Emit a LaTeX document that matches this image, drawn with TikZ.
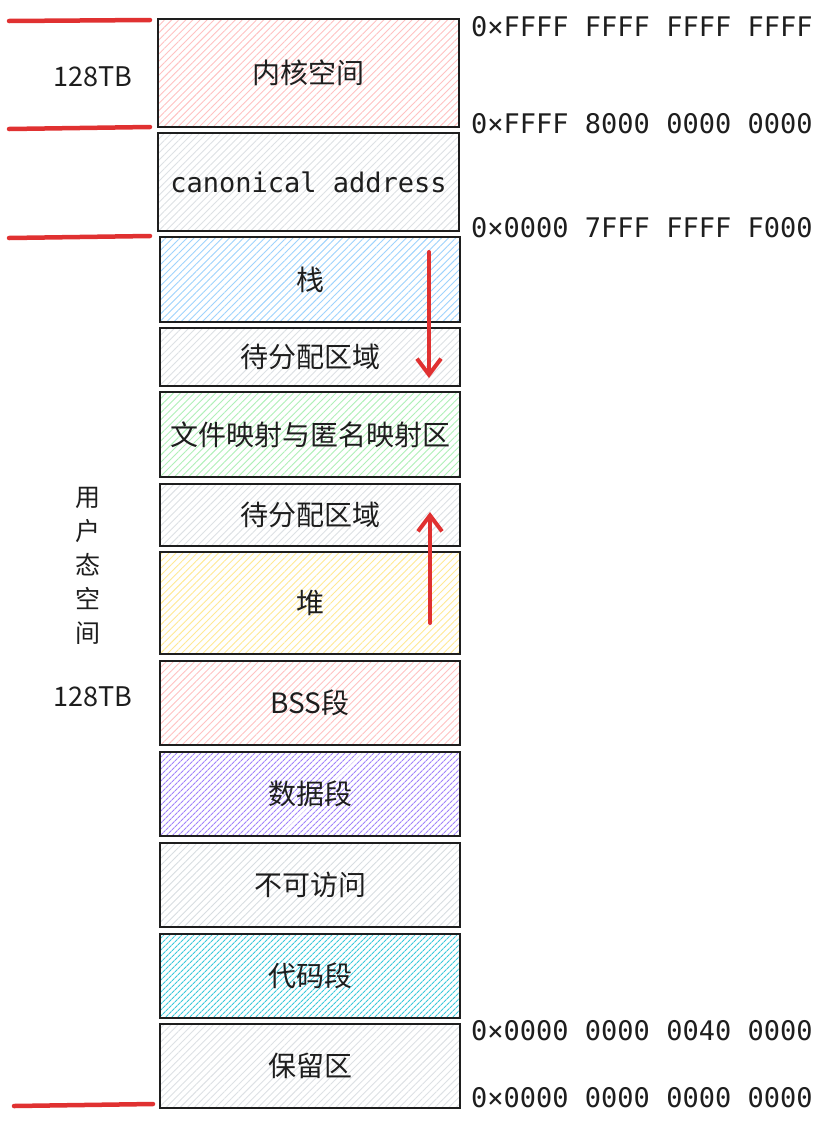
\documentclass[tikz,border=0pt]{standalone}
\usepackage{fontspec}
\setmainfont{Noto Sans CJK SC}
\newfontfamily\monof{DejaVu Sans Mono}
\usetikzlibrary{patterns.meta,arrows.meta}
\definecolor{ink}{HTML}{1E1E1E}
\definecolor{redl}{HTML}{E03131}
\definecolor{cpink}{HTML}{FFA8A8}
\definecolor{cgray}{HTML}{CED4DA}
\definecolor{cblue}{HTML}{74C0FC}
\definecolor{cgreen}{HTML}{8CE99A}
\definecolor{cyellow}{HTML}{FFE066}
\definecolor{cpurple}{HTML}{9775FA}
\definecolor{ccyan}{HTML}{3BC9DB}
\tikzset{
  mem/.style={draw=ink, line width=1.6pt, rectangle, inner sep=0pt, text=ink,
    font=\fontsize{28}{32}\selectfont},
  hatch/.style={pattern={Lines[angle=45,distance=5pt,line width=0.9pt]}, pattern color=#1},
  dhatch/.style={pattern={Lines[angle=45,distance=4pt,line width=1.1pt]}, pattern color=#1},
  redmark/.style={draw=redl, line width=4.5pt, line cap=round},
  redarrow/.style={draw=redl, line width=4pt, line cap=round, -{Straight Barb[length=16pt,width=24pt,line width=4pt]}},
  addr/.style={anchor=west, inner sep=0pt, text=ink, font=\monof\fontsize{27}{32}\selectfont},
  side/.style={inner sep=0pt, text=ink, font=\fontsize{27}{32}\selectfont}
}
\begin{document}
\begin{tikzpicture}[x=1pt,y=-1pt]
\useasboundingbox (0,0) rectangle (825,1125);
\fill[white] (0,0) rectangle (825,1125);
% boxes
\node[mem, minimum width=301pt, minimum height=108pt, hatch=cpink!70] (kernel) at (308.5,73) {内核空间};
\node[mem, minimum width=301pt, minimum height=98pt, hatch=cgray!70, font=\monof\fontsize{27}{32}\selectfont] (canon) at (308.5,182) {canonical address};
\node[mem, minimum width=300pt, minimum height=85pt, hatch=cblue!70] (stack) at (310,279.5) {栈};
\node[mem, minimum width=300pt, minimum height=58pt, hatch=cgray!70] (free1) at (310,357) {待分配区域};
\node[mem, minimum width=300pt, minimum height=85pt, hatch=cgreen!70] (mmap) at (310,434.5) {文件映射与匿名映射区};
\node[mem, minimum width=300pt, minimum height=62pt, hatch=cgray!70] (free2) at (310,515) {待分配区域};
\node[mem, minimum width=300pt, minimum height=102pt, hatch=cyellow!70] (heap) at (310,603) {堆};
\node[mem, minimum width=300pt, minimum height=84pt, hatch=cpink!70] (bss) at (310,703) {BSS段};
\node[mem, minimum width=300pt, minimum height=84pt, dhatch=cpurple!90] (data) at (310,794) {数据段};
\node[mem, minimum width=300pt, minimum height=84pt, hatch=cgray!80] (noacc) at (310,885) {不可访问};
\node[mem, minimum width=300pt, minimum height=84pt, dhatch=ccyan] (code) at (310,976) {代码段};
\node[mem, minimum width=300pt, minimum height=84pt, hatch=cgray!70] (resv) at (310,1066) {保留区};
% address labels
\node[addr] (a1) at (471,27) {0×FFFF FFFF FFFF FFFF};
\node[addr] (a2) at (471,124) {0×FFFF 8000 0000 0000};
\node[addr] (a3) at (471,228) {0×0000 7FFF FFFF F000};
\node[addr] (a4) at (471,1031) {0×0000 0000 0040 0000};
\node[addr] (a5) at (471,1098) {0×0000 0000 0000 0000};
% side labels
\node[side] (k128) at (93,77) {128TB};
\node[side, align=center, font=\fontsize{25}{34}\selectfont] (user) at (88,566) {用\\户\\态\\空\\间};
\node[side] (u128) at (93,697) {128TB};
% red boundary marks
\coordinate (r1a) at (9,21); \coordinate (r1b) at (150,20);
\coordinate (r2a) at (9,129); \coordinate (r2b) at (150,127);
\coordinate (r3a) at (9,238); \coordinate (r3b) at (150,236);
\coordinate (r4a) at (14,1106); \coordinate (r4b) at (153,1104);
\draw[redmark] (r1a) -- (r1b);
\draw[redmark] (r2a) -- (r2b);
\draw[redmark] (r3a) -- (r3b);
\draw[redmark] (r4a) -- (r4b);
% growth arrows
\coordinate (s1) at (429,252); \coordinate (e1) at (429,378);
\coordinate (s2) at (430,623); \coordinate (e2) at (430,512);
\draw[redarrow] (s1) -- (e1);
\draw[redarrow] (s2) -- (e2);
\end{tikzpicture}
\end{document}
